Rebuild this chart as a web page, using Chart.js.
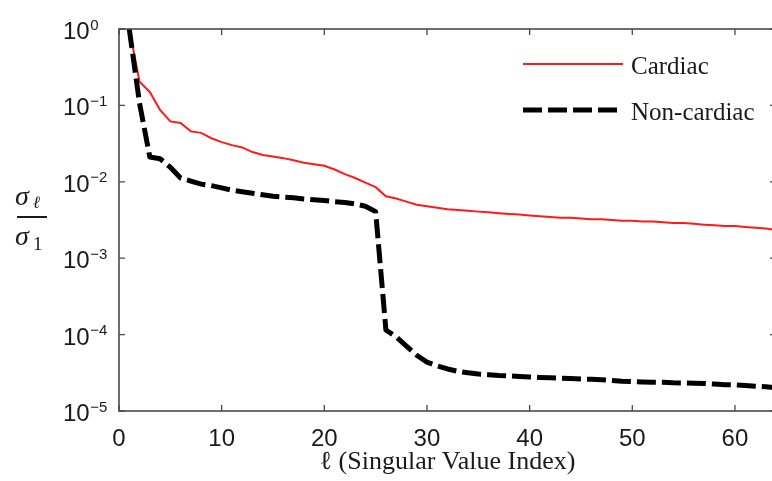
<!DOCTYPE html>
<html>
<head>
<meta charset="utf-8">
<script src="https://cdn.jsdelivr.net/npm/chart.js@4.4.1/dist/chart.umd.min.js"></script>
<style>
  html, body { margin: 0; padding: 0; background: #fff; overflow: hidden; }
  #wrap { width: 790px; height: 481px; }
</style>
</head>
<body>
<div id="wrap"><canvas id="myChart" width="790" height="481"></canvas></div>
<script>
// singular value index
const indices = [1, 2, 3, 4, 5, 6, 7, 8, 9, 10, 11, 12, 13, 14, 15, 16, 17, 18, 19, 20,
  21, 22, 23, 24, 25, 26, 27, 28, 29, 30, 31, 32, 33, 34, 35, 36, 37, 38, 39, 40,
  41, 42, 43, 44, 45, 46, 47, 48, 49, 50, 51, 52, 53, 54, 55, 56, 57, 58, 59, 60,
  61, 62, 63, 64];

const seriesNames = ['Cardiac', 'Non-cardiac'];

// sigma_l / sigma_1
const cardiac = [1, 0.204, 0.150, 0.0871, 0.0617, 0.0589, 0.0457, 0.0437, 0.0372, 0.0331,
  0.0302, 0.0282, 0.0245, 0.0224, 0.0214, 0.0204, 0.0191, 0.0178, 0.0170, 0.0162,
  0.0145, 0.0126, 0.0112, 0.00977, 0.00851, 0.00646, 0.00603, 0.00550, 0.00501, 0.00479,
  0.00457, 0.00437, 0.00427, 0.00417, 0.00407, 0.00398, 0.00389, 0.00380, 0.00372, 0.00363,
  0.00355, 0.00347, 0.00339, 0.00339, 0.00331, 0.00324, 0.00324, 0.00316, 0.00309, 0.00309,
  0.00302, 0.00302, 0.00295, 0.00288, 0.00288, 0.00282, 0.00275, 0.00269, 0.00263, 0.00263,
  0.00257, 0.00251, 0.00245, 0.00234];

const nonCardiac = [1, 0.107, 0.0211, 0.0200, 0.0155, 0.0112, 0.0102, 0.00933, 0.00891, 0.00832,
  0.00776, 0.00741, 0.00708, 0.00676, 0.00646, 0.00631, 0.00617, 0.00596, 0.00582, 0.00569,
  0.00550, 0.00537, 0.00513, 0.00479, 0.00407, 1.15e-4, 9.33e-5, 7.08e-5, 5.37e-5, 4.37e-5,
  3.89e-5, 3.55e-5, 3.31e-5, 3.16e-5, 3.05e-5, 2.99e-5, 2.92e-5, 2.88e-5, 2.83e-5, 2.79e-5,
  2.75e-5, 2.72e-5, 2.69e-5, 2.66e-5, 2.63e-5, 2.60e-5, 2.57e-5, 2.51e-5, 2.45e-5, 2.43e-5,
  2.40e-5, 2.38e-5, 2.37e-5, 2.34e-5, 2.33e-5, 2.31e-5, 2.29e-5, 2.25e-5, 2.21e-5, 2.19e-5,
  2.15e-5, 2.11e-5, 2.07e-5, 2.02e-5];

const xTicks = [0, 10, 20, 30, 40, 50, 60];
const yExponents = [0, -1, -2, -3, -4, -5];

const axisColor = '#4a4a4a';
const textColor = '#1a1a1a';

// box, inward ticks, y labels, y title and legend
const decorations = {
  id: 'decorations',
  afterDraw(chart) {
    const ctx = chart.ctx;
    const a = chart.chartArea;
    const x = chart.scales.x;
    const y = chart.scales.y;
    ctx.save();

    ctx.strokeStyle = axisColor;
    ctx.lineWidth = 1.6;
    ctx.strokeRect(a.left, a.top, a.right - a.left, a.bottom - a.top);

    ctx.lineWidth = 1.3;
    ctx.beginPath();
    xTicks.forEach(v => {
      const px = x.getPixelForValue(v);
      ctx.moveTo(px, a.bottom); ctx.lineTo(px, a.bottom - 6);
      ctx.moveTo(px, a.top); ctx.lineTo(px, a.top + 6);
    });
    yExponents.forEach(e => {
      const py = y.getPixelForValue(Math.pow(10, e));
      ctx.moveTo(a.left, py); ctx.lineTo(a.left + 6, py);
      ctx.moveTo(a.right, py); ctx.lineTo(a.right - 6, py);
    });
    ctx.stroke();

    // y tick labels: 10 with raised exponent
    ctx.fillStyle = textColor;
    ctx.textAlign = 'left';
    ctx.textBaseline = 'alphabetic';
    yExponents.forEach(e => {
      const py = y.getPixelForValue(Math.pow(10, e));
      ctx.font = '24px "Liberation Sans", Arial, sans-serif';
      ctx.fillText('10', 63, py + 10);
      const w = ctx.measureText('10').width;
      ctx.font = '15px "Liberation Sans", Arial, sans-serif';
      ctx.fillText(e < 0 ? '\u2212' + (-e) : String(e), 63 + w + 0.5, py + 0.5);
    });

    // y title: sigma_l / sigma_1
    ctx.font = 'italic 28px "Liberation Serif", "Times New Roman", serif';
    ctx.fillText('\u03c3', 15, 205);
    ctx.font = 'italic 17px "Liberation Serif", "Times New Roman", serif';
    ctx.fillText('\u2113', 33, 208);
    ctx.fillRect(17, 216, 30, 2);
    ctx.font = 'italic 28px "Liberation Serif", "Times New Roman", serif';
    ctx.fillText('\u03c3', 15, 245);
    ctx.font = '19px "Liberation Serif", "Times New Roman", serif';
    ctx.fillText('1', 33, 250);

    // legend
    const ds = chart.data.datasets;
    const rows = [64, 110];
    ds.forEach((d, i) => {
      ctx.save();
      ctx.strokeStyle = d.borderColor;
      ctx.lineWidth = d.borderWidth;
      ctx.setLineDash(d.borderDash || []);
      ctx.lineCap = 'butt';
      ctx.beginPath();
      ctx.moveTo(523, rows[i]);
      ctx.lineTo(i === 0 ? 623 : 619, rows[i]);
      ctx.stroke();
      ctx.restore();
      ctx.font = '25px "Liberation Serif", "Times New Roman", serif';
      ctx.fillStyle = textColor;
      ctx.fillText(d.label, 631, rows[i] + 10);
    });

    ctx.restore();
  }
};

const ctx = document.getElementById('myChart').getContext('2d');
const myChart = new Chart(ctx, {
  type: 'line',
  data: {
    labels: indices,
    datasets: [{
      label: seriesNames[0],
      data: cardiac,
      borderColor: '#ff1a1a',
      borderWidth: 2,
      pointRadius: 0,
      tension: 0,
      order: 1
    }, {
      label: seriesNames[1],
      data: nonCardiac,
      borderColor: '#000000',
      borderWidth: 5,
      borderDash: [19, 6],
      borderCapStyle: 'butt',
      borderJoinStyle: 'round',
      pointRadius: 0,
      tension: 0,
      order: 0
    }]
  },
  options: {
    responsive: false,
    animation: false,
    devicePixelRatio: 1,
    layout: { padding: { left: 0, top: 29, right: 14, bottom: 0 } },
    plugins: {
      legend: { display: false },
      tooltip: { enabled: false }
    },
    scales: {
      x: {
        type: 'linear',
        min: 0,
        max: 64,
        grid: { display: false, drawTicks: false },
        border: { display: false },
        ticks: {
          stepSize: 10,
          includeBounds: false,
          padding: 14,
          color: textColor,
          font: { family: '"Liberation Sans", Arial, sans-serif', size: 24 }
        },
        title: {
          display: true,
          text: '\u2113 (Singular Value Index)',
          color: textColor,
          font: { family: '"Liberation Serif", "Times New Roman", serif', size: 26 },
          padding: { top: 0, bottom: 3 }
        },
        afterFit(scale) { scale.height = 70; }
      },
      y: {
        type: 'logarithmic',
        min: 1e-5,
        max: 1,
        grid: { display: false, drawTicks: false },
        border: { display: false },
        ticks: { display: false },
        afterFit(scale) { scale.width = 119; }
      }
    }
  },
  plugins: [decorations]
});
</script>
</body>
</html>
